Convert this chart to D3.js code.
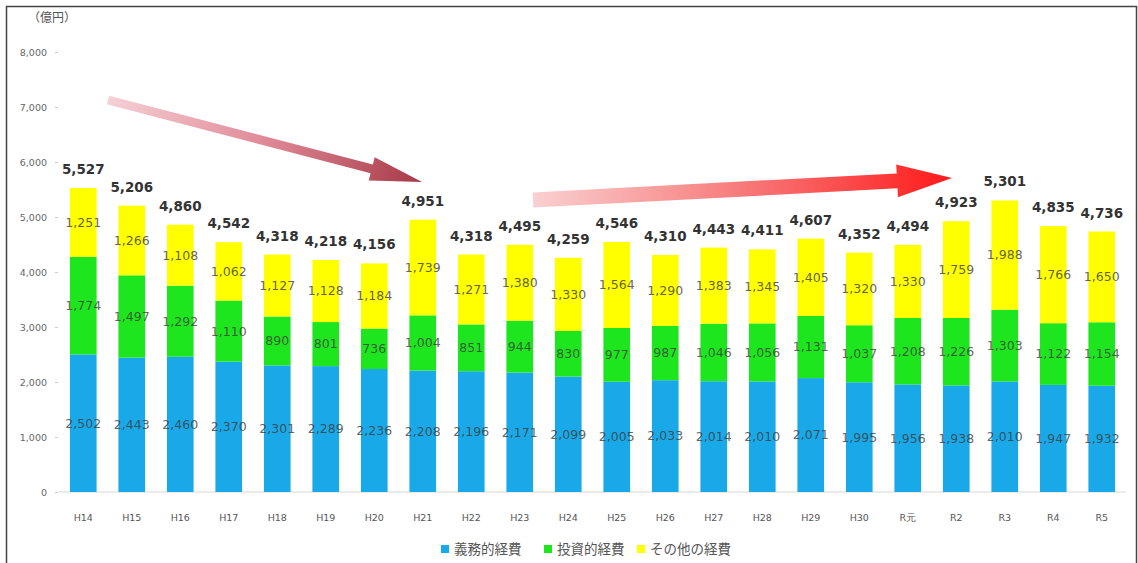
<!DOCTYPE html>
<html>
<head>
<meta charset="utf-8">
<script src="https://cdn.jsdelivr.net/npm/d3@7/dist/d3.min.js"></script>
<style>
  html, body { margin: 0; padding: 0; background: #fff; }
  svg { display: block; }
</style>
</head>
<body>
<svg id="chart" width="1138" height="563"></svg>
<script>
const categories = ["H14","H15","H16","H17","H18","H19","H20","H21","H22","H23","H24","H25","H26","H27","H28","H29","H30","R元","R2","R3","R4","R5"];
const mandatory = [2502,2443,2460,2370,2301,2289,2236,2208,2196,2171,2099,2005,2033,2014,2010,2071,1995,1956,1938,2010,1947,1932];
const investment = [1774,1497,1292,1110,890,801,736,1004,851,944,830,977,987,1046,1056,1131,1037,1208,1226,1303,1122,1154];
const other = [1251,1266,1108,1062,1127,1128,1184,1739,1271,1380,1330,1564,1290,1383,1345,1405,1320,1330,1759,1988,1766,1650];
const seriesNames = ["義務的経費","投資的経費","その他の経費"];
const seriesColors = ["#1AA9E8","#1EE61E","#FFFF00"];
const yTicks = [0,1000,2000,3000,4000,5000,6000,7000,8000];
const unitLabel = "（億円）";

const svg = d3.select("#chart");
const font = "'DejaVu Sans', sans-serif";

// frame
svg.append("path")
  .attr("d", "M6.5,563 L6.5,6.5 L1136.5,6.5 L1136.5,563")
  .attr("fill", "none").attr("stroke", "#444").attr("stroke-width", 1.5);

const x = d3.scaleBand().domain(categories).range([59, 1126]).paddingInner(0.45).paddingOuter(0.225);
const y = d3.scaleLinear().domain([0, 8000]).range([492, 52]);

const rows = categories.map((c, i) => ({cat: c, v: [mandatory[i], investment[i], other[i]]}));
const keys = [0,1,2];
const stack = d3.stack().keys(keys).value((d, k) => d.v[k]);
const stacked = stack(rows);

// y axis
const yAxis = d3.axisLeft(y).tickValues(yTicks).tickFormat(d3.format(",")).tickSize(3).tickPadding(8);
const gy = svg.append("g").attr("transform", "translate(58,0)").call(yAxis);
gy.select(".domain").remove();
gy.selectAll(".tick line").attr("stroke", "#ccc");
gy.selectAll(".tick text").attr("font-family", font).attr("font-size", 9.5).attr("fill", "#666");

// x baseline
svg.append("line").attr("x1", 59).attr("x2", 1126).attr("y1", y(0)).attr("y2", y(0))
  .attr("stroke", "#d8d8d8").attr("stroke-width", 1);

// x axis labels
const xAxis = d3.axisBottom(x).tickSize(0).tickPadding(22);
const gx = svg.append("g").attr("transform", `translate(0,${y(0)})`).call(xAxis);
gx.select(".domain").remove();
gx.selectAll(".tick text").attr("font-family", font).attr("font-size", 9.5).attr("fill", "#555");

// bars
const layers = svg.append("g").selectAll("g").data(stacked).join("g")
  .attr("fill", (d, i) => seriesColors[i]);
layers.selectAll("rect").data(d => d).join("rect")
  .attr("x", d => x(d.data.cat))
  .attr("width", x.bandwidth())
  .attr("y", d => y(d[1]))
  .attr("height", d => y(d[0]) - y(d[1]));

// segment labels
const segLabels = svg.append("g");
stacked.forEach((layer, li) => {
  segLabels.selectAll(null).data(layer).join("text")
    .attr("x", d => x(d.data.cat) + x.bandwidth() / 2)
    .attr("y", d => y((d[0] + d[1]) / 2))
    .attr("dy", "0.35em")
    .attr("text-anchor", "middle")
    .attr("font-family", font).attr("font-size", 12.5)
    .attr("fill", "#3a3a3a").attr("fill-opacity", 0.8)
    .text(d => d3.format(",")(d.data.v[li]));
});

// totals
svg.append("g").selectAll("text").data(rows).join("text")
  .attr("x", d => x(d.cat) + x.bandwidth() / 2)
  .attr("y", d => y(d3.sum(d.v)) - 14)
  .attr("text-anchor", "middle")
  .attr("font-family", font).attr("font-size", 13.5).attr("font-weight", "bold")
  .attr("fill", "#333")
  .text(d => d3.format(",")(d3.sum(d.v)));

// unit label
svg.append("text").attr("x", 28).attr("y", 22).attr("font-family", "'Noto Sans CJK JP', sans-serif")
  .attr("font-size", 12).attr("fill", "#555").text(unitLabel);

// legend
const legendItems = [{x: 441}, {x: 544}, {x: 637}];
const lg = svg.append("g");
seriesNames.forEach((n, i) => {
  lg.append("rect").attr("x", legendItems[i].x).attr("y", 545).attr("width", 8).attr("height", 8).attr("fill", seriesColors[i]);
  lg.append("text").attr("x", legendItems[i].x + 13).attr("y", 549).attr("dy", "0.35em")
    .attr("font-family", "'Noto Sans CJK JP', sans-serif").attr("font-size", 13.5).attr("fill", "#555").text(n);
});

// arrows
const defs = svg.append("defs");
const g1 = defs.append("linearGradient").attr("id", "ga1").attr("gradientUnits", "userSpaceOnUse")
  .attr("x1", 108).attr("y1", 100).attr("x2", 420).attr("y2", 182);
g1.append("stop").attr("offset", 0).attr("stop-color", "#f6d0d6");
g1.append("stop").attr("offset", 0.5).attr("stop-color", "#e08a98");
g1.append("stop").attr("offset", 1).attr("stop-color", "#a83a48");
const g2 = defs.append("linearGradient").attr("id", "ga2").attr("gradientUnits", "userSpaceOnUse")
  .attr("x1", 533).attr("y1", 200).attr("x2", 952).attr("y2", 178);
g2.append("stop").attr("offset", 0).attr("stop-color", "#fad0d0");
g2.append("stop").attr("offset", 0.5).attr("stop-color", "#f77a7a");
g2.append("stop").attr("offset", 1).attr("stop-color", "#ff1a1a");

function arrowPath(x0, y0, x1, y1, bodyW, headW, headL) {
  const dx = x1 - x0, dy = y1 - y0, L = Math.hypot(dx, dy);
  const ux = dx / L, uy = dy / L, nx = -uy, ny = ux;
  const bx = x1 - ux * headL, by = y1 - uy * headL;
  const p = [
    [x0 + nx * bodyW / 2, y0 + ny * bodyW / 2],
    [bx + nx * bodyW / 2, by + ny * bodyW / 2],
    [bx + nx * headW / 2, by + ny * headW / 2],
    [x1, y1],
    [bx - nx * headW / 2, by - ny * headW / 2],
    [bx - nx * bodyW / 2, by - ny * bodyW / 2],
    [x0 - nx * bodyW / 2, y0 - ny * bodyW / 2]
  ];
  return "M" + p.map(q => q.join(",")).join("L") + "Z";
}
svg.append("path").attr("d", arrowPath(108, 100, 422, 182, 9, 24, 52)).attr("fill", "url(#ga1)");
svg.append("path").attr("d", arrowPath(533, 200, 952, 178, 15, 33, 55)).attr("fill", "url(#ga2)");
</script>
</body>
</html>
